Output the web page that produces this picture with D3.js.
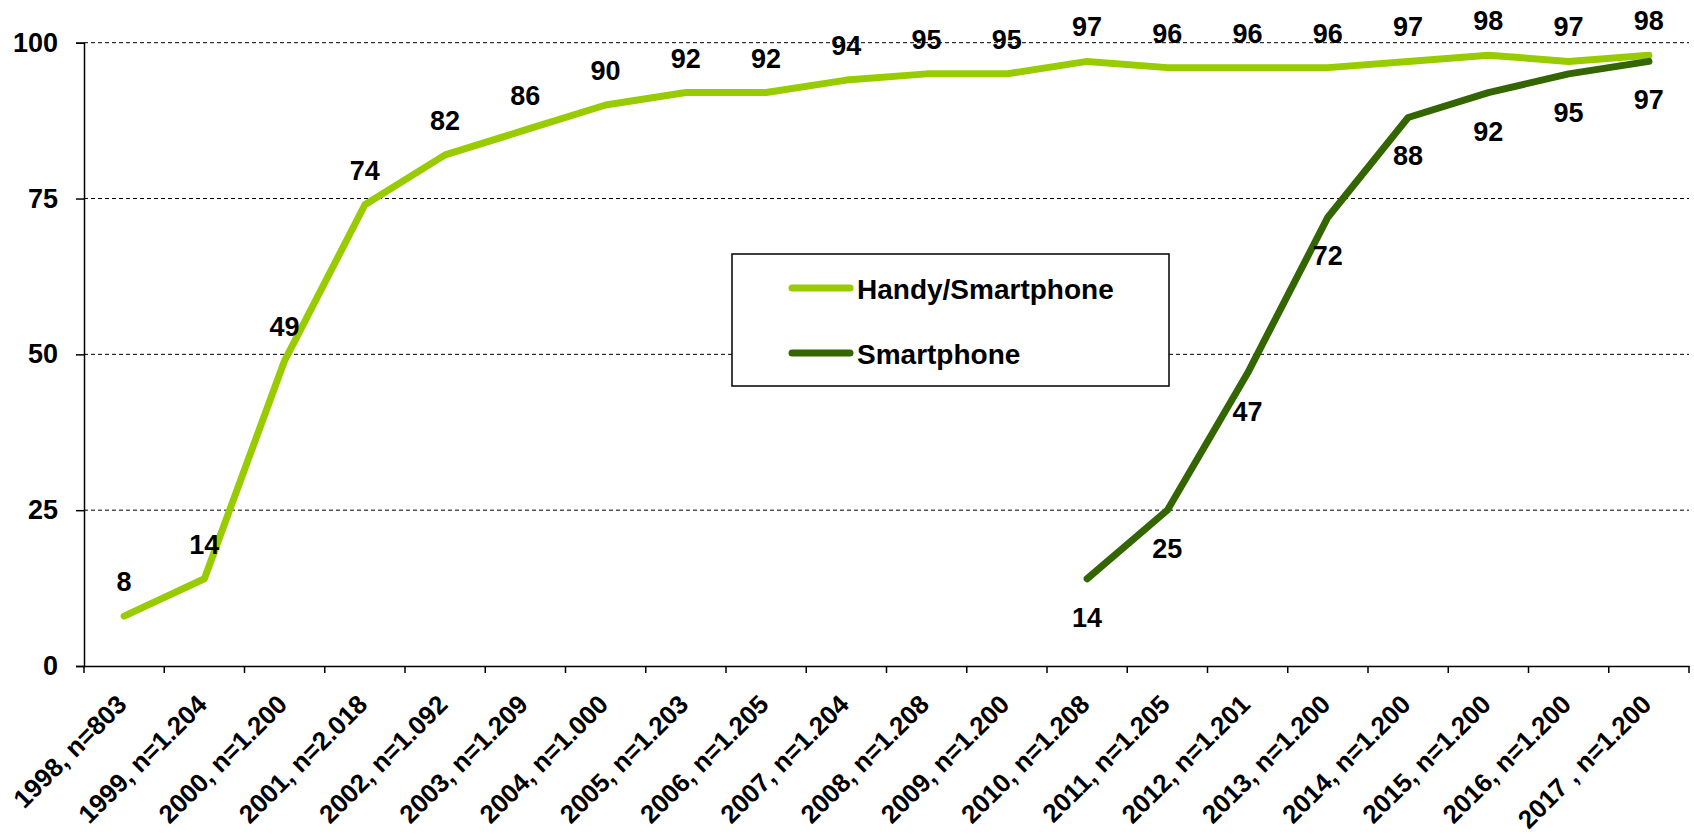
<!DOCTYPE html>
<html>
<head>
<meta charset="utf-8">
<script src="https://cdn.jsdelivr.net/npm/d3@7"></script>
<style>
  html, body { margin: 0; padding: 0; background: #fff; }
  svg text { font-family: "Liberation Sans", Arial, sans-serif; font-weight: bold; fill: #000; }
</style>
</head>
<body>
<svg id="chart" width="1694" height="837"></svg>
<script>
// survey years with sample size
const categories = [
  "1998, n=803", "1999, n=1.204", "2000, n=1.200", "2001, n=2.018", "2002, n=1.092",
  "2003, n=1.209", "2004, n=1.000", "2005, n=1.203", "2006, n=1.205", "2007, n=1.204",
  "2008, n=1.208", "2009, n=1.200", "2010, n=1.208", "2011, n=1.205", "2012, n=1.201",
  "2013, n=1.200", "2014, n=1.200", "2015, n=1.200", "2016, n=1.200", "2017 , n=1.200"
];
const handyValues = [8, 14, 49, 74, 82, 86, 90, 92, 92, 94, 95, 95, 97, 96, 96, 96, 97, 98, 97, 98];
// smartphone only asked from 2010 on
const smartValues = [null, null, null, null, null, null, null, null, null, null, null, null,
  14, 25, 47, 72, 88, 92, 95, 97];
const yTicks = [0, 25, 50, 75, 100];

const series = [
  { name: "Handy/Smartphone", color: "#99CC00", values: handyValues, labelDy: -25 },
  { name: "Smartphone", color: "#336600", values: smartValues, labelDy: 48 }
];

const svg = d3.select("#chart");
const mLeft = 84, mRight = 1689, mTop = 42.7, mBottom = 666;

const x = d3.scaleBand().domain(categories).range([mLeft, mRight]);
const y = d3.scaleLinear().domain([0, 100]).range([mBottom, mTop]);
const cx = c => x(c) + x.bandwidth() / 2;

// dashed gridlines
svg.append("g").selectAll("line")
  .data(yTicks.filter(t => t > 0))
  .join("line")
  .attr("x1", mLeft).attr("x2", mRight)
  .attr("y1", d => y(d)).attr("y2", d => y(d))
  .attr("stroke", "#000").attr("stroke-width", 1).attr("stroke-dasharray", "4,3");

// y axis
const yAxis = svg.append("g")
  .attr("transform", `translate(${mLeft},0)`)
  .call(d3.axisLeft(y).tickValues(yTicks).tickSize(8).tickPadding(18));
yAxis.select(".domain").attr("stroke", "#000").attr("stroke-width", 1.5);
yAxis.selectAll(".tick line").attr("stroke", "#000").attr("stroke-width", 1.5);
yAxis.selectAll(".tick text").attr("font-size", 27).attr("font-family", null).attr("fill", "#000");

// x axis
const xAxis = svg.append("g")
  .attr("transform", `translate(0,${mBottom})`)
  .call(d3.axisBottom(x).tickSize(0).tickFormat(""));
xAxis.select(".domain").attr("stroke", "#000").attr("stroke-width", 1.5);
xAxis.selectAll(".tick").remove();

// boundary ticks between categories
svg.append("g").selectAll("line")
  .data(d3.range(categories.length + 1))
  .join("line")
  .attr("x1", i => mLeft + i * x.step()).attr("x2", i => mLeft + i * x.step())
  .attr("y1", mBottom).attr("y2", mBottom + 7)
  .attr("stroke", "#000").attr("stroke-width", 1.5);

// rotated category labels
svg.append("g").selectAll("text")
  .data(categories)
  .join("text")
  .attr("transform", d => `translate(${cx(d) + 4},${mBottom + 40}) rotate(-45)`)
  .attr("text-anchor", "end")
  .attr("font-size", 26)
  .text(d => d);

// lines
const line = d3.line()
  .defined(d => d.v != null)
  .x(d => cx(d.c))
  .y(d => y(d.v));

series.forEach(s => {
  const pts = categories.map((c, i) => ({ c, v: s.values[i] }));
  svg.append("path")
    .datum(pts)
    .attr("d", line)
    .attr("fill", "none")
    .attr("stroke", s.color)
    .attr("stroke-width", 7)
    .attr("stroke-linejoin", "round")
    .attr("stroke-linecap", "round");

  svg.append("g").selectAll("text")
    .data(pts.filter(p => p.v != null))
    .join("text")
    .attr("x", p => cx(p.c))
    .attr("y", p => y(p.v) + s.labelDy)
    .attr("text-anchor", "middle")
    .attr("font-size", 27)
    .text(p => p.v);
});

// legend
const lg = svg.append("g");
lg.append("rect")
  .attr("x", 732).attr("y", 254).attr("width", 437).attr("height", 132)
  .attr("fill", "#fff").attr("stroke", "#000").attr("stroke-width", 1.5);
series.forEach((s, i) => {
  const ly = 288 + i * 65;
  lg.append("line")
    .attr("x1", 792).attr("x2", 850).attr("y1", ly).attr("y2", ly)
    .attr("stroke", s.color).attr("stroke-width", 7).attr("stroke-linecap", "round");
  lg.append("text")
    .attr("x", 857).attr("y", ly + 11)
    .attr("font-size", 28)
    .text(s.name);
});
</script>
</body>
</html>
